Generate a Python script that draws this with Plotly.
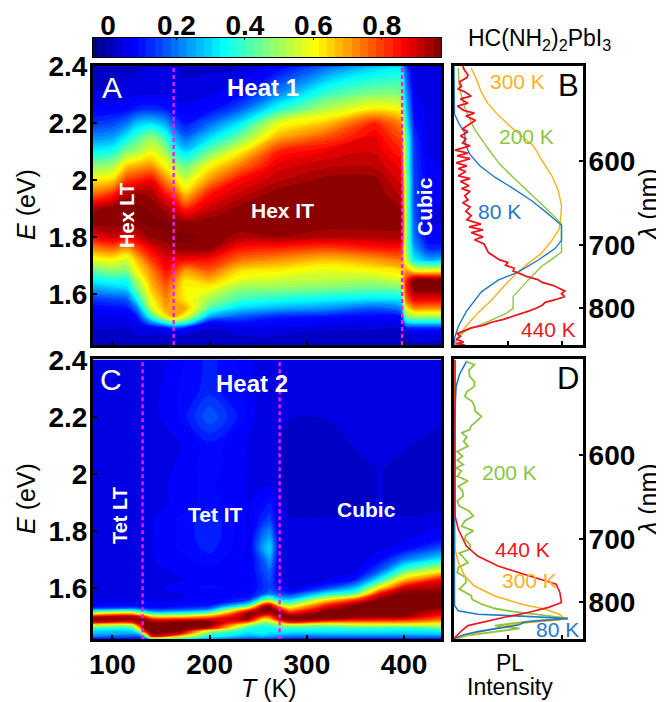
import numpy as np
import plotly.graph_objects as go

W, H = 664, 702
BODY = 8  # the page keeps its default margin

# ---------- panel A (Heat 1) ----------
T_A = [80, 100, 115, 125, 140, 155, 163, 175, 200, 230, 270, 320, 370, 397, 402, 410, 425, 440]
E_A = [1.42, 1.46, 1.48, 1.50, 1.52, 1.55, 1.58, 1.62, 1.65, 1.68, 1.72, 1.76, 1.80, 1.85, 1.90, 1.95,
       2.00, 2.05, 2.10, 2.15, 2.20, 2.25, 2.30, 2.40]
A_BY_T = [
    [.02,.02,.03,.04,.05,.08,.13,.25,.33,.43,.58,.72,.86,.96,.93,.75,.62,.47,.33,.22,.13,.06,.03,.02],
    [.02,.02,.03,.04,.05,.09,.15,.28,.37,.47,.60,.76,.90,.96,.96,.82,.64,.50,.36,.24,.15,.07,.03,.02],
    [.02,.02,.03,.04,.06,.10,.17,.30,.36,.47,.56,.70,.87,.96,.97,.93,.80,.65,.47,.33,.20,.08,.04,.02],
    [.02,.03,.04,.06,.10,.20,.33,.45,.52,.60,.66,.78,.90,.96,.97,.95,.82,.68,.50,.40,.27,.11,.05,.02],
    [.02,.03,.05,.22,.38,.55,.60,.66,.69,.72,.80,.87,.95,.97,.96,.93,.86,.70,.58,.48,.30,.12,.05,.03],
    [.02,.03,.09,.38,.62,.70,.72,.76,.80,.84,.88,.92,.96,.97,.93,.84,.72,.60,.50,.38,.24,.10,.05,.03],
    [.02,.03,.15,.45,.68,.70,.68,.70,.74,.80,.86,.95,.97,.96,.90,.80,.65,.52,.38,.27,.16,.08,.04,.03],
    [.02,.03,.10,.40,.58,.68,.62,.60,.63,.70,.86,.96,.97,.95,.82,.66,.55,.44,.30,.18,.10,.06,.04,.02],
    [.02,.02,.03,.08,.25,.42,.50,.60,.68,.76,.84,.95,.96,.96,.90,.84,.71,.60,.44,.30,.18,.08,.05,.02],
    [.02,.03,.05,.10,.17,.30,.40,.49,.58,.63,.75,.84,.93,.96,.95,.90,.85,.73,.60,.44,.31,.16,.08,.02],
    [.02,.03,.05,.08,.11,.26,.36,.48,.55,.61,.71,.82,.94,.96,.96,.96,.91,.88,.82,.68,.57,.36,.22,.07],
    [.02,.02,.04,.06,.10,.23,.33,.46,.53,.57,.66,.79,.92,.96,.96,.96,.95,.91,.87,.78,.66,.52,.40,.18],
    [.02,.02,.03,.05,.08,.17,.31,.44,.52,.60,.70,.83,.92,.96,.96,.96,.95,.91,.89,.87,.82,.62,.47,.28],
    [.02,.02,.03,.06,.10,.22,.33,.47,.57,.63,.73,.83,.92,.96,.94,.91,.88,.86,.82,.78,.72,.58,.46,.30],
    [.02,.02,.10,.30,.45,.60,.75,.82,.80,.70,.55,.50,.50,.50,.50,.50,.50,.45,.45,.42,.35,.30,.25,.15],
    [.02,.04,.12,.33,.50,.72,.86,.97,.96,.62,.33,.25,.20,.18,.16,.15,.15,.14,.14,.13,.10,.08,.06,.04],
    [.02,.04,.12,.33,.50,.72,.86,.98,.97,.60,.25,.12,.07,.05,.05,.07,.07,.06,.05,.04,.04,.04,.03,.03],
    [.02,.04,.12,.33,.50,.72,.86,.98,.97,.62,.27,.12,.07,.05,.05,.07,.08,.05,.05,.04,.04,.03,.03,.03],
]

# ---------- panel C (Heat 2) ----------
T_C = [80, 120, 128, 133, 140, 170, 200, 240, 255, 262, 272, 282, 320, 350, 375, 400, 440]
E_C = [1.42, 1.43, 1.44, 1.45, 1.46, 1.47, 1.48, 1.49, 1.50, 1.51, 1.52, 1.53, 1.54, 1.56, 1.58, 1.60,
       1.63, 1.66, 1.70, 1.74, 1.78, 1.84, 1.90, 1.96, 2.02, 2.10, 2.20, 2.30, 2.40]
C_BY_T = [
    [.08,.20,.27,.30,.42,.58,.90,.97,.88,.60,.33,.12,.06,.04,.03,.03,.03,.03,.03,.03,.03,.03,.03,.03,.03,.03,.03,.03,.03],
    [.08,.16,.25,.30,.40,.55,.85,.96,.92,.68,.40,.15,.07,.04,.03,.03,.03,.03,.03,.03,.03,.03,.03,.03,.03,.03,.03,.03,.03],
    [.08,.16,.30,.50,.70,.85,.95,.96,.85,.55,.32,.13,.06,.04,.03,.03,.03,.03,.03,.03,.03,.03,.03,.03,.03,.03,.03,.03,.03],
    [.10,.30,.62,.85,.97,.97,.97,.95,.80,.50,.28,.11,.06,.05,.03,.03,.03,.03,.03,.03,.03,.03,.03,.03,.03,.03,.03,.03,.03],
    [.20,.85,.97,.98,.98,.98,.95,.85,.65,.38,.20,.09,.06,.05,.03,.04,.04,.04,.05,.05,.05,.05,.04,.03,.03,.03,.04,.04,.03],
    [.30,.60,.87,.96,.98,.98,.97,.85,.62,.40,.22,.12,.08,.05,.05,.07,.05,.06,.07,.08,.08,.08,.06,.07,.06,.05,.08,.08,.07],
    [.22,.35,.42,.55,.90,.97,.97,.87,.72,.50,.30,.16,.10,.07,.06,.08,.07,.07,.09,.11,.12,.12,.09,.08,.09,.09,.17,.11,.11],
    [.12,.25,.30,.33,.38,.50,.75,.93,.97,.97,.85,.62,.35,.12,.08,.07,.06,.06,.05,.05,.05,.05,.05,.05,.05,.05,.07,.07,.06],
    [.12,.27,.33,.33,.36,.38,.50,.62,.78,.92,.97,.97,.85,.38,.15,.12,.13,.15,.17,.24,.20,.12,.08,.05,.03,.03,.03,.03,.03],
    [.12,.25,.30,.33,.35,.40,.50,.65,.78,.90,.97,.97,.90,.45,.20,.15,.16,.18,.24,.30,.24,.14,.10,.05,.03,.03,.03,.03,.03],
    [.12,.22,.30,.33,.40,.50,.68,.90,.97,.97,.93,.78,.60,.30,.15,.09,.06,.05,.05,.05,.05,.05,.04,.03,.03,.03,.03,.03,.03],
    [.10,.20,.28,.33,.40,.52,.85,.96,.97,.87,.75,.62,.50,.28,.12,.05,.03,.03,.03,.03,.03,.03,.02,.01,.01,.01,.03,.03,.03],
    [.10,.20,.28,.33,.38,.50,.72,.95,.97,.98,.96,.90,.82,.60,.33,.14,.05,.03,.03,.03,.03,.03,.02,.01,.01,.01,.03,.03,.03],
    [.10,.20,.28,.33,.40,.55,.72,.88,.96,.97,.98,.98,.97,.78,.42,.28,.10,.04,.03,.03,.03,.03,.02,.015,.02,.03,.03,.03,.03],
    [.10,.20,.28,.33,.39,.55,.72,.86,.95,.97,.98,.98,.98,.96,.86,.62,.34,.17,.08,.04,.03,.03,.03,.03,.03,.03,.03,.03,.03],
    [.10,.20,.28,.32,.38,.55,.72,.85,.95,.97,.98,.98,.98,.98,.97,.90,.65,.42,.20,.07,.04,.03,.02,.015,.02,.03,.03,.03,.03],
    [.10,.20,.30,.33,.45,.55,.65,.75,.80,.86,.90,.96,.97,.98,.97,.93,.86,.60,.33,.17,.08,.04,.02,.015,.02,.02,.03,.03,.03],
]

# ---------- panel B spectra (E, normalised intensity) ----------
B_300_E = [2.394,2.353,2.313,2.272,2.237,2.196,2.161,2.120,2.074,2.015,1.963,1.910,1.858,1.829,1.782,1.741,1.707,1.672,1.637,1.578,1.532,1.485,1.450,1.42]
B_300_I = [.16,.21,.25,.31,.39,.50,.61,.74,.81,.91,.97,1.0,.99,.98,.90,.81,.69,.58,.49,.35,.22,.11,.04,.01]
B_200_E = [2.394,2.324,2.254,2.179,2.109,2.056,2.010,1.940,1.881,1.846,1.80,1.765,1.747,1.73,1.695,1.648,1.59,1.549,1.532,1.503,1.468,1.438,1.42]
B_200_I = [.04,.05,.10,.19,.32,.425,.55,.75,.91,1.0,1.0,1.005,1.0,.94,.81,.69,.55,.55,.49,.32,.10,.02,.01]
B_80_E = [2.40,2.231,2.196,2.167,2.126,2.091,2.05,2.01,1.975,1.928,1.881,1.841,1.788,1.759,1.718,1.677,1.648,1.607,1.538,1.485,1.445,1.42]
B_80_I = [0,.005,.05,.10,.105,.146,.24,.38,.53,.72,.876,1.0,1.0,.94,.78,.60,.41,.255,.115,.04,.005,0]
B_440_E = [2.40,2.385,2.37,2.36,2.345,2.33,2.32,2.31,2.295,2.285,2.27,2.26,2.245,2.235,2.225,2.21,2.195,2.18,2.17,2.155,2.145,2.13,2.12,2.105,2.095,2.085,2.075,2.06,2.05,2.04,2.03,2.015,2.005,1.995,1.98,1.97,1.96,1.945,1.93,1.92,1.905,1.89,1.875,1.86,1.845,1.835,1.825,1.815,1.80,1.79,1.775,1.76,1.745,1.73,1.72,1.71,1.70,1.69,1.68,1.67,1.66,1.65,1.64,1.63,1.62,1.61,1.60,1.59,1.58,1.57,1.56,1.55,1.54,1.53,1.52,1.51,1.50,1.49,1.48,1.47,1.46,1.45,1.44,1.43,1.425,1.42]
B_440_I = [.08,.10,.13,.12,.05,.07,.04,.10,.16,.06,.13,.03,.09,.19,.11,.20,.14,.08,.13,.06,.11,.08,.15,.01,.13,.03,.15,.02,.12,.04,.11,.04,.15,.06,.14,.07,.15,.10,.13,.08,.15,.11,.16,.12,.25,.14,.27,.16,.27,.19,.28,.30,.32,.38,.42,.50,.48,.56,.55,.62,.68,.78,.82,.92,.98,1.03,1.0,1.03,.95,.85,.82,.77,.70,.62,.55,.46,.35,.28,.16,.10,.03,.06,.02,.09,.02,.10]

# ---------- panel D spectra ----------
D_80_E = [2.394,2.348,2.307,2.202,2.085,1.62,1.538,1.52,1.508,1.503,1.497,1.493,1.485,1.48,1.47,1.458,1.447,1.437,1.423]
D_80_I = [.115,.05,.02,.005,0,0,.005,.04,.22,.53,.85,1.06,.8,.65,.6,.4,.22,.1,0]
D_300_E = [2.40,1.78,1.736,1.69,1.642,1.607,1.572,1.543,1.526,1.508,1.497,1.488,1.479,1.468,1.45,1.433,1.423]
D_300_I = [.005,.005,.01,.04,.10,.19,.38,.63,.84,.98,1.015,.98,.69,.5,.29,.1,.02]
D_440_E = [2.40,1.90,1.852,1.806,1.747,1.712,1.677,1.654,1.631,1.613,1.584,1.549,1.532,1.514,1.497,1.477,1.468,1.45,1.423]
D_440_I = [.01,.005,.01,.04,.115,.22,.41,.60,.81,.95,.985,1.0,.88,.69,.47,.22,.13,.07,0]
D_200_E = [2.394,2.383,2.365,2.342,2.324,2.307,2.289,2.272,2.254,2.237,2.219,2.202,2.184,2.169,2.155,2.144,2.13,2.114,2.097,2.079,2.062,2.048,2.033,2.021,2.01,1.992,1.975,1.957,1.94,1.922,1.905,1.887,1.87,1.852,1.835,1.817,1.80,1.785,1.771,1.753,1.736,1.722,1.706,1.689,1.672,1.654,1.637,1.619,1.596,1.573,1.559,1.543,1.528,1.517,1.508,1.499,1.493,1.485,1.477,1.468,1.458,1.45,1.442,1.433,1.423]
D_200_I = [.115,.19,.14,.145,.19,.19,.12,.10,.17,.19,.20,.255,.21,.16,.145,.07,.12,.09,.13,.03,.08,.03,.085,.02,.07,.03,.13,.04,.08,.085,.03,.05,.14,.18,.10,.07,.18,.11,.10,.15,.15,.05,.09,.13,.04,.03,.11,.11,.05,.16,.17,.26,.38,.55,.75,.95,1.06,.75,.55,.38,.61,.45,.25,.12,.03]

# ---------- phase boundaries, ticks ----------
BOUNDS_A = [163, 398]
BOUNDS_C = [131, 272]
E_TICKS = [2.4, 2.2, 2.0, 1.8, 1.6]
E_LABELS = ["2.4", "2.2", "2", "1.8", "1.6"]
T_TICKS = [100, 200, 300, 400]
NM_LABELS = ["600", "700", "800"]
NM_VALUES = [600, 700, 800]
CB_TICKS = [0, .2, .4, .6, .8]
CB_LABELS = ["0", "0.2", "0.4", "0.6", "0.8"]
ZMIN, ZMAX = -0.044, 0.973

C300, C200, C80, C440 = "#f9b21c", "#8cc63f", "#1f78c8", "#f0141e"
MAG = "#f31bf0"

JET = [[0, "#00007f"], [.11, "#0000ff"], [.125, "#0000ff"], [.375, "#00ffff"], [.5, "#7fff7f"],
       [.64, "#ffff00"], [.89, "#ff0000"], [1, "#7f0000"]]

FW, FH = W - BODY, H - BODY
px = lambda x: (x - BODY) / FW
py = lambda y: 1 - (y - BODY) / FH

fig = go.Figure()
contour_style = dict(colorscale=JET, zmin=ZMIN, zmax=ZMAX, showscale=False, zauto=False,
                     contours=dict(coloring="fill", start=ZMIN, end=ZMAX, size=0.024, showlines=False),
                     line=dict(width=0, smoothing=1.0))

fig.add_trace(go.Contour(x=T_A, y=E_A, z=np.array(A_BY_T).T, xaxis="x", yaxis="y", **contour_style))
fig.add_trace(go.Contour(x=T_C, y=E_C, z=np.array(C_BY_T).T, xaxis="x2", yaxis="y2", **contour_style))

for t in BOUNDS_A:
    fig.add_trace(go.Scatter(x=[t, t], y=[1.42, 2.4], mode="lines", xaxis="x", yaxis="y",
                             line=dict(color=MAG, width=2.4, dash="4px,3px"), showlegend=False))
for t in BOUNDS_C:
    fig.add_trace(go.Scatter(x=[t, t], y=[1.42, 2.4], mode="lines", xaxis="x2", yaxis="y2",
                             line=dict(color=MAG, width=2.4, dash="4px,3px"), showlegend=False))

for xs, ys, c, w in [(B_300_I, B_300_E, C300, 1.4), (B_200_I, B_200_E, C200, 1.4),
                     (B_80_I, B_80_E, C80, 1.4), (B_440_I, B_440_E, C440, 1.8)]:
    fig.add_trace(go.Scatter(x=xs, y=ys, mode="lines", xaxis="x3", yaxis="y3",
                             line=dict(color=c, width=w), showlegend=False))
for xs, ys, c, w in [(D_200_I, D_200_E, C200, 1.8), (D_300_I, D_300_E, C300, 1.6),
                     (D_80_I, D_80_E, C80, 1.6), (D_440_I, D_440_E, C440, 1.6)]:
    fig.add_trace(go.Scatter(x=xs, y=ys, mode="lines", xaxis="x4", yaxis="y4",
                             line=dict(color=c, width=w), showlegend=False))

# colour bar drawn from its own scale
cb_levels = np.arange(ZMIN, ZMAX + 0.001, 0.024)
fig.add_trace(go.Heatmap(x=cb_levels, y=[0, 1], z=[cb_levels, cb_levels], colorscale=JET, zmin=ZMIN, zmax=ZMAX,
                         showscale=False, xaxis="x5", yaxis="y5"))

BOLD = dict(family="Liberation Sans, Arial, sans-serif", size=28, color="black", weight="bold")
frame = dict(showline=True, linecolor="black", linewidth=3, mirror=True, ticks="inside", ticklen=4,
             tickwidth=2, tickcolor="black", showgrid=False, zeroline=False, automargin=False)
A_X, B_X = [px(93), px(441)], [px(454), px(583)]
A_Y, C_Y = [py(345), py(65.7)], [py(639.3), py(359.3)]
e_range = [1.42, 2.402]
t_range = [80, 438]
i_range = [0, 1.2]
e_axis = dict(range=e_range, tickvals=E_TICKS, ticktext=E_LABELS, tickfont=BOLD, ticklabelstandoff=-3, **frame)
side_vals = [1239.8 / n for n in NM_VALUES]
side_axis = dict(range=e_range, side="right", tickvals=side_vals, ticktext=NM_LABELS, tickfont=BOLD,
                 ticklabelstandoff=-3, **frame)

fig.update_layout(
    width=FW, height=FH, margin=dict(l=0, r=0, t=0, b=0), paper_bgcolor="white", plot_bgcolor="white",
    xaxis=dict(domain=A_X, range=t_range, tickvals=T_TICKS, showticklabels=False, anchor="y", **frame),
    yaxis=dict(domain=A_Y, anchor="x", **e_axis),
    xaxis2=dict(domain=A_X, range=t_range, tickvals=T_TICKS, tickfont=BOLD, anchor="y2", ticklabelstandoff=-2, **frame),
    yaxis2=dict(domain=C_Y, anchor="x2", **e_axis),
    xaxis3=dict(domain=B_X, range=i_range, tickvals=[0, .5, 1], showticklabels=False, anchor="y3", **frame),
    yaxis3=dict(domain=A_Y, anchor="x3", **side_axis),
    xaxis4=dict(domain=B_X, range=i_range, tickvals=[0, .5, 1], showticklabels=False, anchor="y4", **frame),
    yaxis4=dict(domain=C_Y, anchor="x4", **side_axis),
    xaxis5=dict(domain=A_X, range=[ZMIN, ZMAX], side="top", tickvals=CB_TICKS, ticktext=CB_LABELS, tickfont=BOLD,
                anchor="y5", showline=True, linecolor="black", linewidth=1, mirror=True, ticks="inside", ticklen=2,
                tickcolor="black", showgrid=False, zeroline=False, automargin=False, ticklabelstandoff=-9),
    yaxis5=dict(domain=[py(57), py(38)], range=[0, 1], anchor="x5", showticklabels=False, ticks="", showgrid=False,
                showline=True, linecolor="black", linewidth=1, mirror=True, zeroline=False, automargin=False),
)

def note(x, y, text, size=20, color="white", bold=True, angle=0):
    fig.add_annotation(x=px(x), y=py(y), xref="paper", yref="paper", text=text, showarrow=False, textangle=angle,
                       xanchor="center", yanchor="middle",
                       font=dict(family="Liberation Sans, Arial, sans-serif", size=size, color=color,
                                 weight="bold" if bold else "normal"))

note(112, 87, "A", 30, bold=False)
note(263, 87, "Heat 1", 24)
note(127, 216, "Hex LT", 20, angle=-90)
note(282, 210, "Hex IT", 21)
note(424, 207, "Cubic", 21, angle=-90)
note(111, 379, "C", 30, bold=False)
note(252, 384, "Heat 2", 24)
note(120, 516, "Tet LT", 20, angle=-90)
note(215, 514, "Tet IT", 21)
note(366, 509, "Cubic", 21)
note(568, 85, "B", 31, "black", False)
note(568, 378, "D", 31, "black", False)
note(517, 82, "300 K", 21, C300, False)
note(526, 136, "200 K", 21, C200, False)
note(499, 211, "80 K", 21, C80, False)
note(548, 330, "440 K", 21, C440, False)
note(509, 472, "200 K", 21, C200, False)
note(522, 549, "440 K", 21, C440, False)
note(529, 580, "300 K", 21, C300, False)
note(557, 629, "80 K", 21, C80, False)
note(510, 663, "PL", 23, "black", False)
note(510, 687, "Intensity", 23, "black", False)
note(539, 39, "HC(NH<sub>2</sub>)<sub>2</sub>PbI<sub>3</sub>", 23, "black", False)
note(26, 205, "<i>E</i> (eV)", 25, "black", False, -90)
note(26, 499, "<i>E</i> (eV)", 25, "black", False, -90)
note(648, 205, "<i>λ</i> (nm)", 25, "black", False, -90)
note(648, 500, "<i>λ</i> (nm)", 25, "black", False, -90)
note(269, 688, "<i>T</i> (K)", 25, "black", False)

fig.write_html("out.html")
